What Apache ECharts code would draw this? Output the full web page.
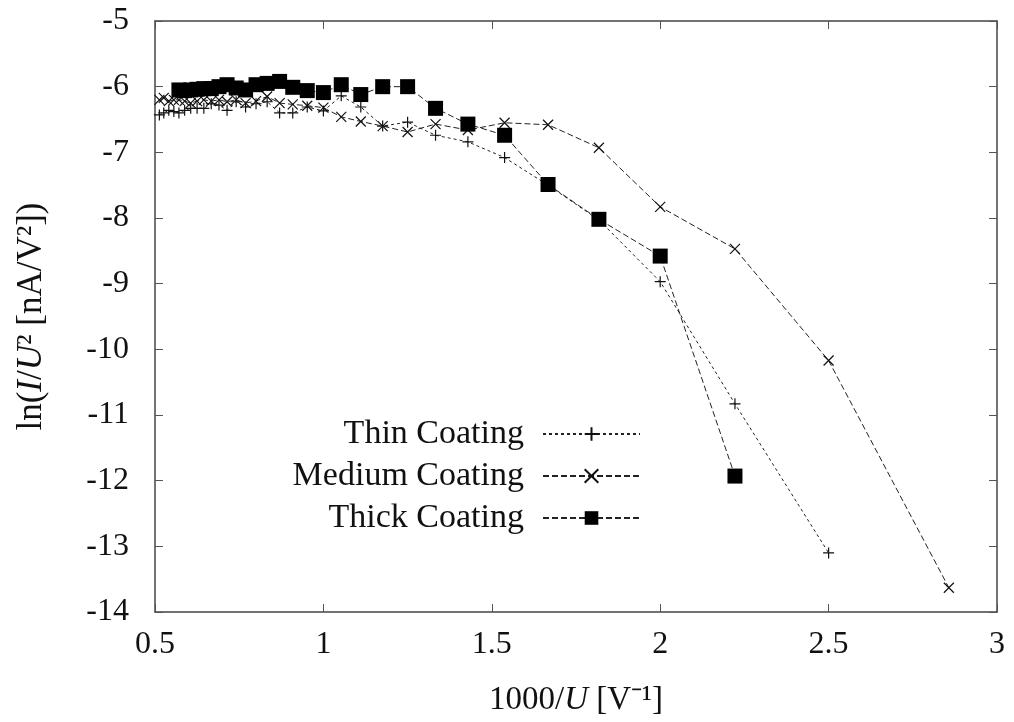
<!DOCTYPE html>
<html>
<head>
<meta charset="utf-8">
<script src="https://cdn.jsdelivr.net/npm/echarts@6/dist/echarts.min.js"></script>
<style>
  html, body { margin: 0; padding: 0; background: #fff; }
  #chart { width: 1014px; height: 722px; }
</style>
</head>
<body>
<div id="chart"></div>
<script>
// 1000/U [1/V] positions for each measurement
const xThin = [0.513, 0.526, 0.541, 0.556, 0.571, 0.588, 0.606, 0.625, 0.645, 0.667, 0.690, 0.714, 0.741, 0.769, 0.800, 0.833, 0.870, 0.909, 0.952, 1.000, 1.053, 1.111, 1.176, 1.250, 1.333, 1.429, 1.538, 1.667, 1.818, 2.000, 2.222, 2.500];
const yThin = [-6.43, -6.40, -6.36, -6.38, -6.40, -6.36, -6.33, -6.33, -6.33, -6.26, -6.28, -6.36, -6.23, -6.31, -6.26, -6.23, -6.40, -6.40, -6.31, -6.37, -6.14, -6.31, -6.60, -6.54, -6.74, -6.84, -7.08, -7.50, -8.03, -8.97, -10.83, -13.10];

const xMedium = [0.513, 0.526, 0.541, 0.556, 0.571, 0.588, 0.606, 0.625, 0.645, 0.667, 0.690, 0.714, 0.741, 0.769, 0.800, 0.833, 0.870, 0.909, 0.952, 1.000, 1.053, 1.111, 1.176, 1.250, 1.333, 1.429, 1.538, 1.667, 1.818, 2.000, 2.222, 2.500, 2.857];
const yMedium = [-6.20, -6.17, -6.22, -6.20, -6.20, -6.22, -6.25, -6.22, -6.20, -6.22, -6.20, -6.23, -6.20, -6.25, -6.22, -6.15, -6.25, -6.27, -6.29, -6.32, -6.46, -6.53, -6.60, -6.69, -6.57, -6.66, -6.55, -6.58, -6.93, -7.83, -8.47, -10.17, -13.63];

const xThick = [0.571, 0.588, 0.606, 0.625, 0.645, 0.667, 0.690, 0.714, 0.741, 0.769, 0.800, 0.833, 0.870, 0.909, 0.952, 1.000, 1.053, 1.111, 1.176, 1.250, 1.333, 1.429, 1.538, 1.667, 1.818, 2.000, 2.222];
const yThick = [-6.05, -6.06, -6.05, -6.04, -6.03, -6.03, -6.00, -5.97, -6.02, -6.05, -5.97, -5.95, -5.92, -6.01, -6.06, -6.09, -5.97, -6.12, -6.00, -6.00, -6.33, -6.57, -6.74, -7.49, -8.02, -8.58, -11.93];

const seriesNames = ['Thin Coating', 'Medium Coating', 'Thick Coating'];
const xTicks = [0.5, 1, 1.5, 2, 2.5, 3];
const yTicks = [-14, -13, -12, -11, -10, -9, -8, -7, -6, -5];

const pair = (xs, ys) => xs.map((x, i) => [x, ys[i]]);

const FONT = 'Liberation Serif';
const INK = '#222';
const PLUS = 'path://M5,0 L5,10 M0,5 L10,5';
const CROSS = 'path://M0,0 L10,10 M10,0 L0,10';

const chart = echarts.init(document.getElementById('chart'), null, { renderer: 'canvas' });

const baseAxisLine = { show: true, lineStyle: { color: '#444', width: 1.5 } };
const baseTick = { show: true, inside: true, length: 8, lineStyle: { color: '#555', width: 1 } };

chart.setOption({
  animation: false,
  backgroundColor: '#fff',
  grid: { left: 155, right: 17, top: 21, bottom: 105, containLabel: false },
  legend: {
    orient: 'vertical',
    align: 'right',
    right: 368,
    top: 412,
    itemWidth: 97,
    itemHeight: 17,
    itemGap: 8,
    selectedMode: false,
    textStyle: { fontFamily: FONT, fontSize: 34, color: '#111', padding: [0, 14, 0, 0] },
    data: seriesNames
  },
  xAxis: [
    {
      type: 'value', position: 'bottom', min: xTicks[0], max: xTicks[xTicks.length - 1], interval: 0.5,
      axisLine: baseAxisLine, axisTick: baseTick, splitLine: { show: false },
      axisLabel: { fontFamily: FONT, fontSize: 32, color: '#111', margin: 17 },
      name: '1000/{i|U} [V⁻¹]', nameLocation: 'middle', nameGap: 72,
      nameTextStyle: {
        fontFamily: FONT, fontSize: 33, color: '#111',
        rich: { i: { fontFamily: FONT, fontSize: 33, fontStyle: 'italic', color: '#111' } }
      }
    },
    {
      type: 'value', position: 'top', min: xTicks[0], max: xTicks[xTicks.length - 1], interval: 0.5,
      axisLine: baseAxisLine, axisTick: baseTick, axisLabel: { show: false }, splitLine: { show: false }
    }
  ],
  yAxis: [
    {
      type: 'value', position: 'left', min: yTicks[0], max: yTicks[yTicks.length - 1], interval: 1,
      axisLine: baseAxisLine, axisTick: baseTick, splitLine: { show: false },
      axisLabel: { fontFamily: FONT, fontSize: 32, color: '#111', margin: 26 },
      name: 'ln({i|I}/{i|U}² [nA/V²])', nameLocation: 'middle', nameGap: 106, nameRotate: 90,
      nameTextStyle: {
        fontFamily: FONT, fontSize: 35, color: '#111',
        rich: { i: { fontFamily: FONT, fontSize: 35, fontStyle: 'italic', color: '#111' } }
      }
    },
    {
      type: 'value', position: 'right', min: yTicks[0], max: yTicks[yTicks.length - 1], interval: 1,
      axisLine: baseAxisLine, axisTick: baseTick, axisLabel: { show: false }, splitLine: { show: false }
    }
  ],
  series: [
    {
      name: seriesNames[0], type: 'line', data: pair(xThin, yThin),
      symbol: PLUS, symbolSize: 11, showAllSymbol: true,
      lineStyle: { color: INK, width: 1, type: [3, 3] },
      itemStyle: { color: 'rgba(0,0,0,0)', borderColor: '#111', borderWidth: 1.2 },
      z: 3
    },
    {
      name: seriesNames[1], type: 'line', data: pair(xMedium, yMedium),
      symbol: CROSS, symbolSize: 10, showAllSymbol: true,
      lineStyle: { color: INK, width: 1, type: [6, 3] },
      itemStyle: { color: 'rgba(0,0,0,0)', borderColor: '#111', borderWidth: 1.2 },
      z: 2
    },
    {
      name: seriesNames[2], type: 'line', data: pair(xThick, yThick),
      symbol: 'rect', symbolSize: 15, showAllSymbol: true,
      lineStyle: { color: INK, width: 1, type: [6, 3] },
      itemStyle: { color: '#000', borderWidth: 0 },
      z: 4
    }
  ]
});
</script>
</body>
</html>
